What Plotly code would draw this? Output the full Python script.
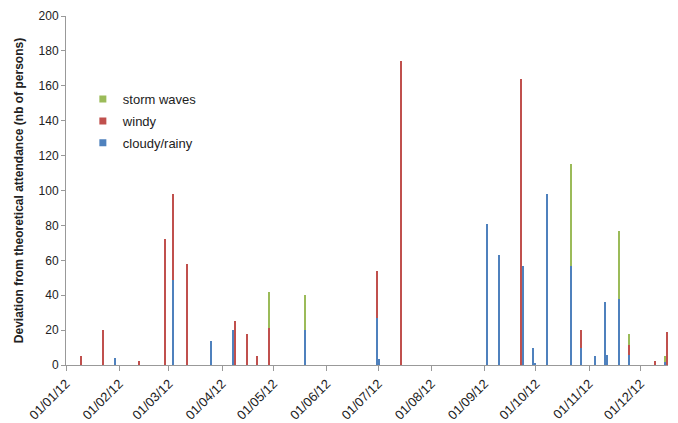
import plotly.graph_objects as go

dates = ["2012-01-09", "2012-01-22", "2012-01-29", "2012-02-12", "2012-02-27",
         "2012-03-03", "2012-03-11", "2012-03-25", "2012-04-07", "2012-04-08",
         "2012-04-15", "2012-04-21", "2012-04-28", "2012-05-19", "2012-06-30",
         "2012-07-01", "2012-07-14", "2012-09-02", "2012-09-09", "2012-09-22",
         "2012-09-23", "2012-09-29", "2012-09-30", "2012-10-07", "2012-10-21",
         "2012-10-27", "2012-11-04", "2012-11-10", "2012-11-11", "2012-11-18",
         "2012-11-24", "2012-12-09", "2012-12-15", "2012-12-16"]
cloudy_rainy = [0, 0, 4, 0, 0,
                49, 0, 14, 20, 0,
                0, 0, 0, 20, 27,
                3.5, 0, 81, 63, 0,
                57, 10, 1, 98, 57,
                10, 5, 36, 6, 38,
                5.5, 0, 2, 0]
windy = [5, 20, 0, 2.5, 72,
         49, 58, 0, 0, 25,
         18, 5, 21, 0, 27,
         0, 174, 0, 0, 164,
         0, 0, 0, 0, 0,
         10, 0, 0, 0, 0,
         6, 2.3, 0, 19]
storm_waves = [0, 0, 0, 0, 0,
               0, 0, 0, 0, 0,
               0, 0, 21, 20, 0,
               0, 0, 0, 0, 0,
               0, 0, 0, 0, 58,
               0, 0, 0, 0, 39,
               6.3, 0, 3, 0]

month_ticks = ["2012-%02d-01" % m for m in range(1, 13)]
y_ticks = list(range(0, 201, 20))

DAY = 86400000
BAR_W = 1.2 * DAY
BAR_OFFSET = 0.5 * DAY - BAR_W / 2   # bar centred in the middle of its day
font = "Liberation Sans, Arial, sans-serif"
COLORS = {"cloudy/rainy": "#4F81BD", "windy": "#C0504D", "storm waves": "#9BBB59"}

fig = go.Figure()
for name, vals in [("cloudy/rainy", cloudy_rainy), ("windy", windy), ("storm waves", storm_waves)]:
    fig.add_trace(go.Bar(x=dates, y=vals, name=name, width=BAR_W, offset=BAR_OFFSET,
                         showlegend=False,
                         marker=dict(color=COLORS[name], line=dict(width=0))))
# legend entries with small square swatches (top to bottom)
for name in ["storm waves", "windy", "cloudy/rainy"]:
    fig.add_trace(go.Scatter(x=[None], y=[None], mode="markers", name=name, legendgroup=name,
                             marker=dict(symbol="square", size=7, color=COLORS[name])))

fig.update_layout(
    width=678, height=423,
    barmode="stack",
    paper_bgcolor="white", plot_bgcolor="white",
    margin=dict(l=66, r=10, t=16, b=58),
    font=dict(family=font, size=12, color="#222"),
    legend=dict(x=0.028, y=0.805, xanchor="left", yanchor="top",
                traceorder="grouped", font=dict(size=13, color="#222"),
                bgcolor="rgba(0,0,0,0)", itemwidth=30, tracegroupgap=2),
    showlegend=True,
)
fig.update_xaxes(
    type="date", range=["2012-01-01", "2012-12-17"], automargin=False,
    tickvals=month_ticks, tickformat="%d/%m/%y", tickangle=-45,
    ticks="outside", ticklen=5, tickcolor="#999",
    showline=True, linecolor="#999", linewidth=1,
    showgrid=False, zeroline=False,
    tickfont=dict(size=13, color="#222"),
)
fig.update_yaxes(
    range=[0, 200], tickvals=y_ticks, automargin=False,
    ticks="outside", ticklen=4, tickcolor="#999",
    showline=True, linecolor="#999", linewidth=1,
    showgrid=False, zeroline=False,
    tickfont=dict(size=12, color="#222"),
    title=dict(text="<b>Deviation from theoretical attendance (nb of persons)</b>",
               font=dict(size=12, color="#222"), standoff=12),
)

fig.write_html("out.html", config={"displayModeBar": False},
               post_script="document.body.style.margin='0';document.body.style.overflow='hidden';")
